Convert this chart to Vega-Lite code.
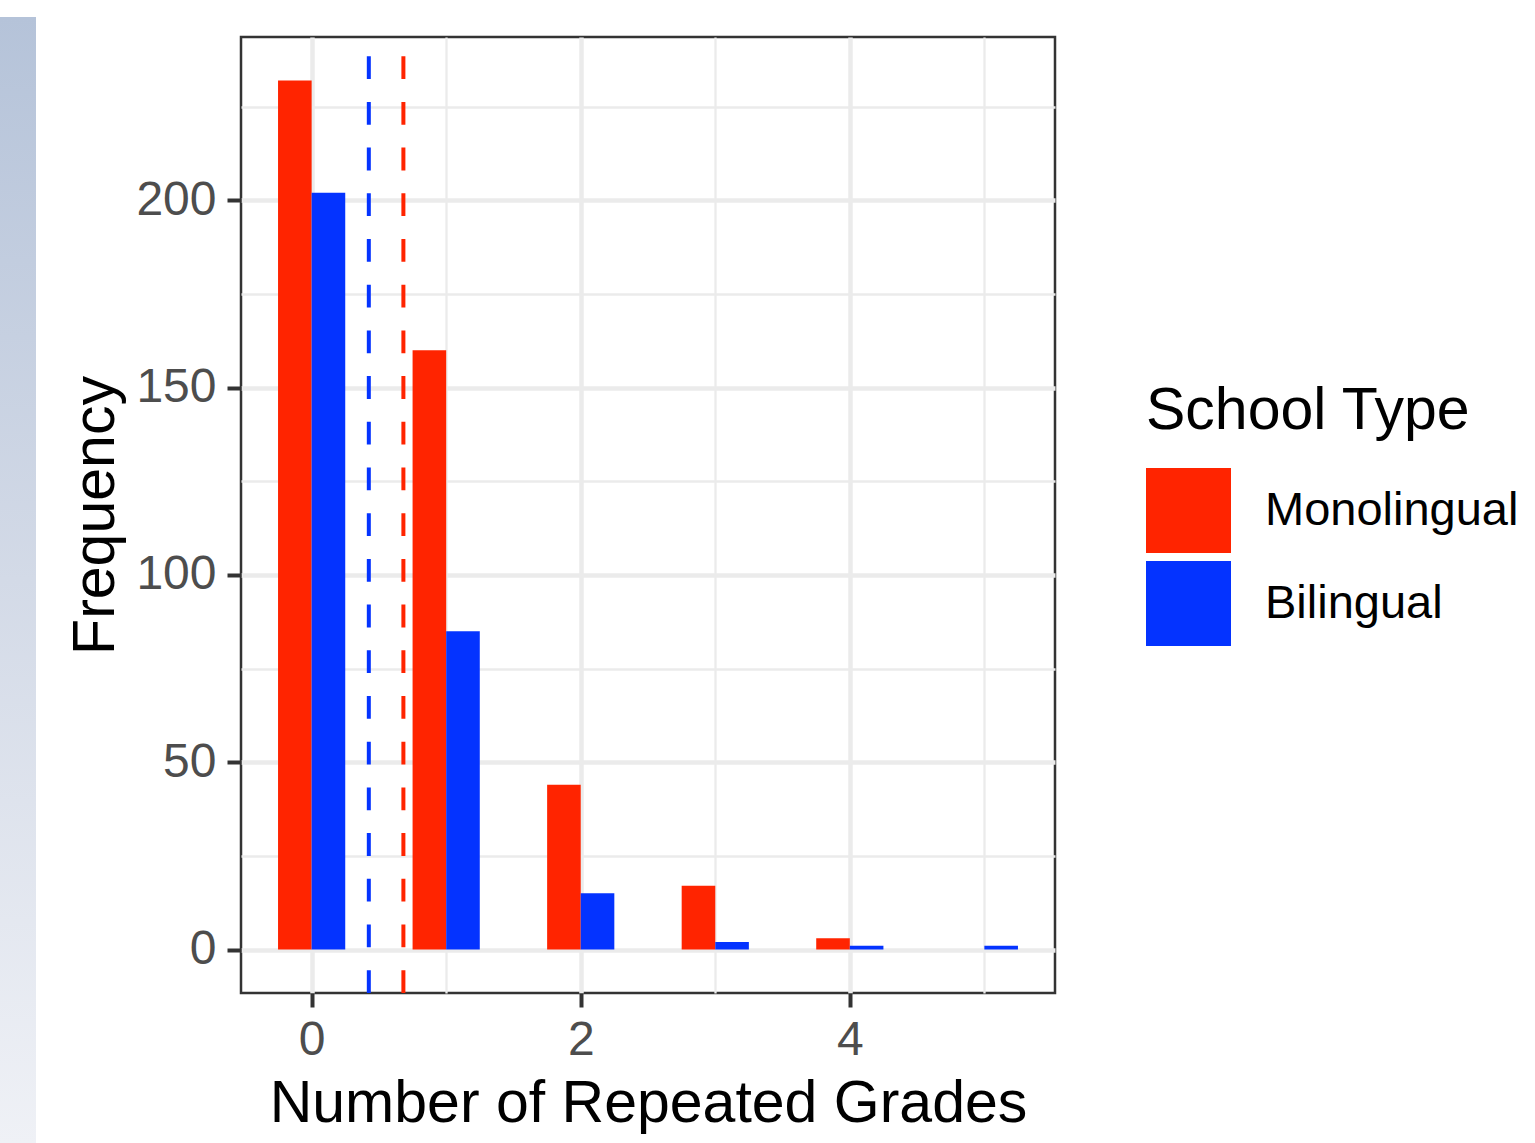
{
  "$schema": "https://vega.github.io/schema/vega-lite/v6.json",
  "padding": {"left": 0, "top": 17, "right": 0, "bottom": 0},
  "background": "white",
  "spacing": 29,
  "datasets": {
    "counts": [
      {"grades": 0, "school": "Monolingual", "n": 232},
      {"grades": 1, "school": "Monolingual", "n": 160},
      {"grades": 2, "school": "Monolingual", "n": 44},
      {"grades": 3, "school": "Monolingual", "n": 17},
      {"grades": 4, "school": "Monolingual", "n": 3},
      {"grades": 0, "school": "Bilingual", "n": 202},
      {"grades": 1, "school": "Bilingual", "n": 85},
      {"grades": 2, "school": "Bilingual", "n": 15},
      {"grades": 3, "school": "Bilingual", "n": 2},
      {"grades": 4, "school": "Bilingual", "n": 1},
      {"grades": 5, "school": "Bilingual", "n": 1}
    ],
    "means": [
      {"school": "Monolingual", "mean": 0.682},
      {"school": "Bilingual", "mean": 0.425}
    ],
    "band": [{"part": "side"}]
  },
  "config": {
    "font": "Liberation Sans",
    "axis": {
      "labelFont": "Liberation Sans",
      "titleFont": "Liberation Sans",
      "labelColor": "#4d4d4d",
      "labelFontSize": 48,
      "titleFontSize": 59,
      "titleFontWeight": "normal",
      "titleColor": "black",
      "tickColor": "#333333",
      "tickWidth": 4,
      "tickSize": 14,
      "domain": false,
      "gridColor": "#ebebeb"
    },
    "legend": {
      "labelFont": "Liberation Sans",
      "titleFont": "Liberation Sans"
    }
  },
  "hconcat": [
    {
      "width": 36,
      "height": 1106,
      "view": {"stroke": null},
      "data": {"name": "band"},
      "mark": {
        "type": "rect",
        "y2Offset": -20,
        "color": {
          "gradient": "linear",
          "x1": 0, "y1": 0, "x2": 0, "y2": 1,
          "stops": [
            {"offset": 0, "color": "#b5c3d9"},
            {"offset": 0.5, "color": "#d3dae7"},
            {"offset": 1, "color": "#eff1f6"}
          ]
        }
      },
      "encoding": {
        "x": {"datum": 0, "type": "quantitative", "scale": {"domain": [0, 1], "nice": false}, "axis": null},
        "x2": {"datum": 1},
        "y": {"datum": 0, "type": "quantitative", "scale": {"domain": [0, 1], "nice": false}, "axis": null},
        "y2": {"datum": 1}
      }
    },
    {
      "width": 814,
      "height": 956,
      "view": {"stroke": "#333333", "strokeWidth": 2.5},
      "encoding": {
        "x": {
          "field": "grades",
          "type": "quantitative",
          "scale": {"domain": [-0.525, 5.525], "nice": false, "zero": false, "padding": 0},
          "axis": {
            "title": "Number of Repeated Grades",
            "values": [0, 1, 2, 3, 4, 5],
            "labelExpr": "datum.value % 2 === 0 ? datum.label : ''",
            "tickOpacity": {"condition": {"test": "datum.value % 2 !== 0", "value": 0}, "value": 1},
            "gridWidth": {"condition": {"test": "datum.value % 2 !== 0", "value": 2.3}, "value": 4.5},
            "labelPadding": 9,
            "titlePadding": 10
          }
        },
        "y": {
          "field": "n",
          "type": "quantitative",
          "scale": {"domain": [-11.6, 243.6], "nice": false, "zero": false, "padding": 0},
          "axis": {
            "title": "Frequency",
            "values": [0, 25, 50, 75, 100, 125, 150, 175, 200, 225],
            "labelExpr": "datum.value % 50 === 0 ? datum.label : ''",
            "tickOpacity": {"condition": {"test": "datum.value % 50 !== 0", "value": 0}, "value": 1},
            "gridWidth": {"condition": {"test": "datum.value % 50 !== 0", "value": 2.3}, "value": 4.5},
            "labelPadding": 11,
            "titlePadding": 10
          }
        },
        "color": {
          "field": "school",
          "type": "nominal",
          "scale": {"domain": ["Monolingual", "Bilingual"], "range": ["#ff2400", "#0433ff"]},
          "legend": {
            "title": "School Type",
            "orient": "none",
            "legendX": 1146,
            "legendY": 345,
            "titleFontSize": 59,
            "titleFontWeight": "normal",
            "titleColor": "black",
            "titlePadding": 27,
            "titleLimit": 800,
            "labelFontSize": 47,
            "labelColor": "black",
            "labelLimit": 800,
            "labelOffset": 34,
            "rowPadding": 8,
            "symbolType": "square",
            "symbolSize": 7225,
            "symbolStrokeWidth": 0,
            "symbolOpacity": 1
          }
        }
      },
      "layer": [
        {
          "data": {"name": "counts"},
          "transform": [{"filter": "datum.school === 'Monolingual'"}],
          "mark": {"type": "bar", "width": 33.6, "xOffset": -16.8, "opacity": 1}
        },
        {
          "data": {"name": "counts"},
          "transform": [{"filter": "datum.school === 'Bilingual'"}],
          "mark": {"type": "bar", "width": 33.6, "xOffset": 16.8, "opacity": 1}
        },
        {
          "data": {"name": "means"},
          "mark": {"type": "rule", "strokeWidth": 4, "strokeDash": [22.8, 22.9], "strokeDashOffset": 26.5},
          "encoding": {
            "x": {"field": "mean", "type": "quantitative"},
            "y": null
          }
        }
      ]
    }
  ]
}
